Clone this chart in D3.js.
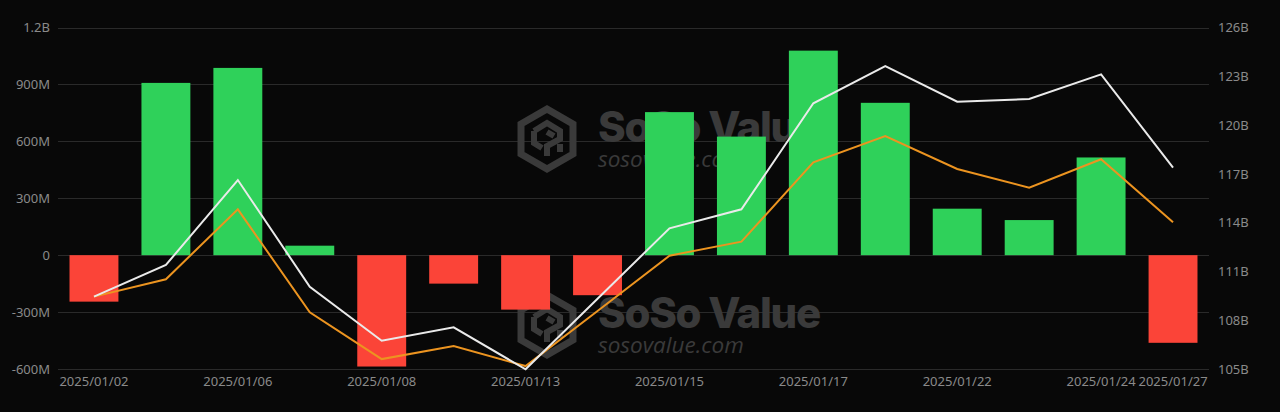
<!DOCTYPE html>
<html>
<head>
<meta charset="utf-8">
<script src="https://cdn.jsdelivr.net/npm/d3@7"></script>
<style>
html,body{margin:0;padding:0;background:#080808;}
svg{display:block;}
</style>
</head>
<body>
<svg id="chart" width="1280" height="412"></svg>
<script>
const dates = ["2025/01/02","2025/01/03","2025/01/06","2025/01/07","2025/01/08","2025/01/10","2025/01/13","2025/01/14","2025/01/15","2025/01/16","2025/01/17","2025/01/21","2025/01/22","2025/01/23","2025/01/24","2025/01/27"];
const netInflow = [-245e6, 908e6, 987e6, 50e6, -587e6, -150e6, -287e6, -211e6, 754e6, 625e6, 1078e6, 803e6, 245e6, 185e6, 515e6, -462e6];
const totalNetAssets = [109.45e9, 111.40e9, 116.62e9, 110.06e9, 106.74e9, 107.56e9, 104.98e9, 109.32e9, 113.65e9, 114.82e9, 121.34e9, 123.63e9, 121.44e9, 121.60e9, 123.12e9, 117.38e9];
const cumulativeInflow = [109.45e9, 110.52e9, 114.82e9, 108.49e9, 105.61e9, 106.41e9, 105.18e9, 108.57e9, 111.97e9, 112.83e9, 117.71e9, 119.33e9, 117.30e9, 116.15e9, 117.90e9, 114.02e9];
const leftTicks = [-600e6, -300e6, 0, 300e6, 600e6, 900e6, 1200e6];
const leftTickLabels = ["-600M","-300M","0","300M","600M","900M","1.2B"];
const rightTicks = [105e9,108e9,111e9,114e9,117e9,120e9,123e9,126e9];
const rightTickLabels = ["105B","108B","111B","114B","117B","120B","123B","126B"];
const xLabelDates = ["2025/01/02","2025/01/06","2025/01/08","2025/01/13","2025/01/15","2025/01/17","2025/01/22","2025/01/24","2025/01/27"];

const svg = d3.select("#chart");
const L = 58, R = 1209, T = 27.5, B = 369;
const font = "'Noto Sans', 'DejaVu Sans', sans-serif";
const labelColor = "#8a8a8a";

const x = d3.scaleBand().domain(dates).range([L, R]).paddingInner(0.32).paddingOuter(0.16);
const yL = d3.scaleLinear().domain([-600e6, 1200e6]).range([B, T]);
const yR = d3.scaleLinear().domain([105e9, 126e9]).range([B, T]);

svg.append("rect").attr("width",1280).attr("height",412).attr("fill","#080808");

// grid
svg.append("g").selectAll("line").data(leftTicks).join("line")
  .attr("x1", L).attr("x2", R)
  .attr("y1", d => Math.round(yL(d)) + 0.5).attr("y2", d => Math.round(yL(d)) + 0.5)
  .attr("stroke", "#2a2a2a").attr("stroke-width", 1);

// watermarks
function watermark(g, cx, cy) {
  const wm = g.append("g").attr("transform", `translate(${cx},${cy})`).attr("fill","#3a3a3a").attr("stroke","#3a3a3a");
  const r = 30;
  const hex = d3.range(6).map(i => { const a = Math.PI/3*i - Math.PI/2; return [r*Math.cos(a), r*Math.sin(a)]; });
  wm.append("path").attr("d", "M" + hex.map(p => p.join(",")).join("L") + "Z")
    .attr("fill","none").attr("stroke-width",7).attr("stroke-linejoin","miter");
  wm.append("path").attr("d","M-13,-8 L0,-16 L13,-8 L13,0 L0,7 L0,17 M-13,-8 L-13,4 L-5,9 M13,5 L13,13 M0,-7 L7,-3")
    .attr("fill","none").attr("stroke-width",6);
  wm.append("text").attr("x", 51).attr("y", 3).attr("stroke","none")
    .attr("font-family","'Inter','Noto Sans',sans-serif").attr("font-weight",800).attr("font-size",42)
    .attr("letter-spacing","-1.3").text("SoSo Value");
  wm.append("text").attr("x", 51).attr("y", 28).attr("stroke","none")
    .attr("font-family","'Open Sans','Noto Sans',sans-serif").attr("font-style","italic").attr("font-size",22.5)
    .text("sosovalue.com");
}
const wmG = svg.append("g");
watermark(wmG, 547, 139);
watermark(wmG, 547, 325);

// bars
svg.append("g").selectAll("rect").data(dates).join("rect")
  .attr("x", d => x(d))
  .attr("width", x.bandwidth())
  .attr("y", (d,i) => yL(Math.max(0, netInflow[i])))
  .attr("height", (d,i) => Math.abs(yL(netInflow[i]) - yL(0)))
  .attr("fill", (d,i) => netInflow[i] >= 0 ? "#2fd15a" : "#fb4438");

// lines
const lineGen = arr => d3.line().x((d,i) => x(dates[i]) + x.bandwidth()/2).y(d => yR(d))(arr);
svg.append("path").attr("d", lineGen(cumulativeInflow)).attr("fill","none").attr("stroke","#ec9420").attr("stroke-width",2);
svg.append("path").attr("d", lineGen(totalNetAssets)).attr("fill","none").attr("stroke","#eaeaea").attr("stroke-width",2);

// left axis
const axL = svg.append("g").attr("transform", `translate(${L-8},0)`)
  .call(d3.axisLeft(yL).tickValues(leftTicks).tickFormat((d,i) => leftTickLabels[i]).tickSize(0).tickPadding(0));
axL.select(".domain").remove();
axL.selectAll("text").attr("fill", labelColor).attr("font-size", 13).attr("font-family", font);

// right axis
const axR = svg.append("g").attr("transform", `translate(${R+9},0)`)
  .call(d3.axisRight(yR).tickValues(rightTicks).tickFormat((d,i) => rightTickLabels[i]).tickSize(0).tickPadding(0));
axR.select(".domain").remove();
axR.selectAll("text").attr("fill", labelColor).attr("font-size", 13).attr("font-family", font);

// x axis
const axX = svg.append("g").attr("transform", `translate(0,${B+5})`)
  .call(d3.axisBottom(x).tickValues(xLabelDates).tickSize(0).tickPadding(0));
axX.select(".domain").remove();
axX.selectAll("text").attr("fill", labelColor).attr("font-size", 13).attr("font-family", font).attr("dy","0.9em");
</script>
</body>
</html>
